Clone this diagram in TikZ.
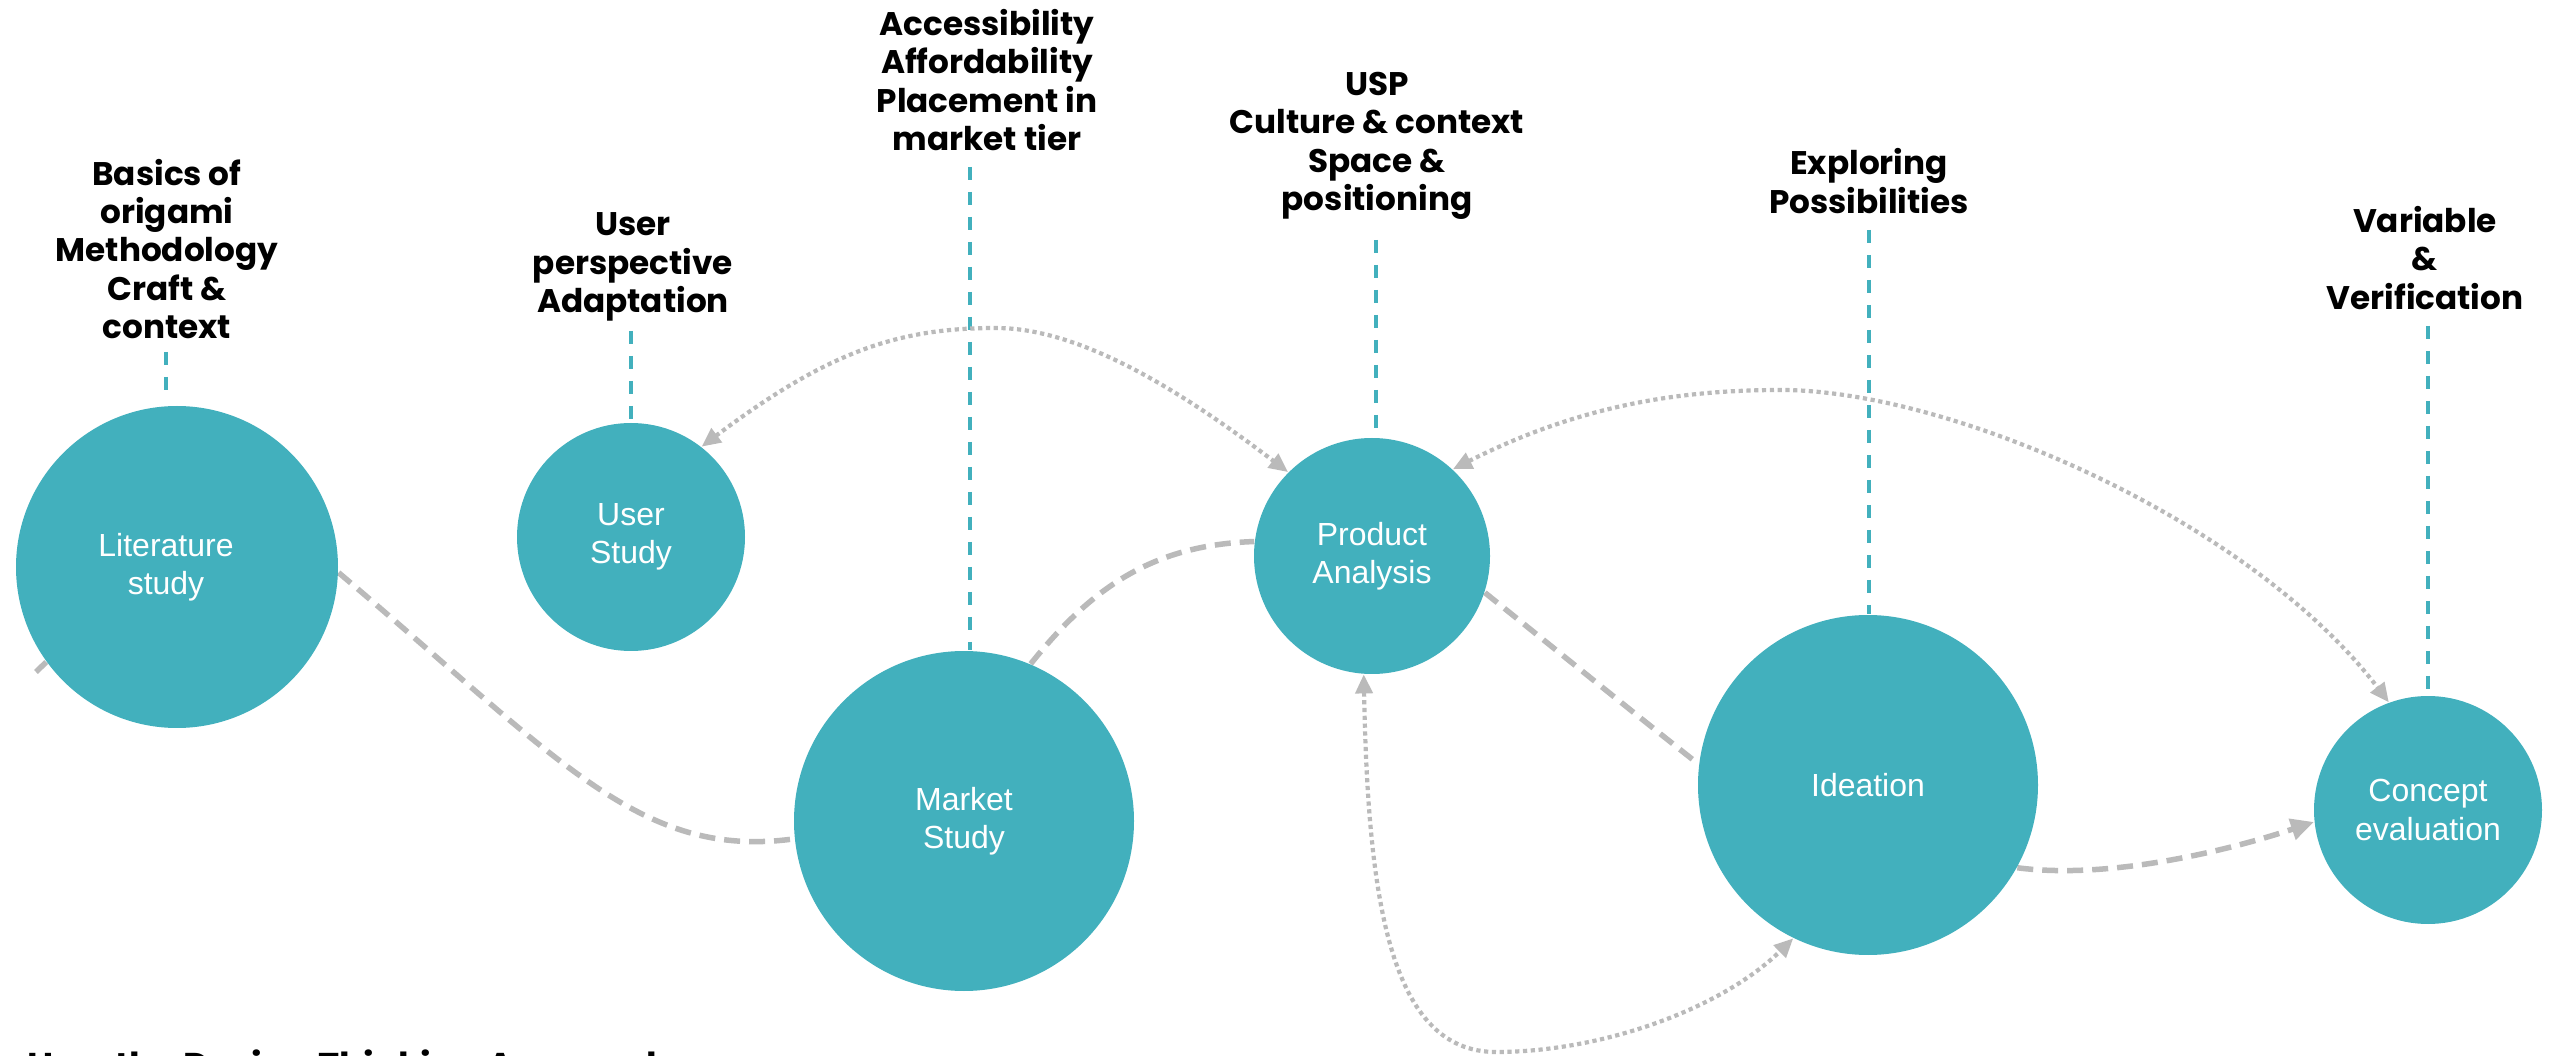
\documentclass[tikz,border=0pt]{standalone}
\usepackage{fontspec}
\setmainfont{Liberation Sans}
\newfontfamily\lblfont{Poppins}
\usetikzlibrary{arrows.meta}
\definecolor{tealc}{RGB}{66,176,189}
\definecolor{grayc}{RGB}{186,186,186}
\pgfdeclarelayer{bg}
\pgfdeclarelayer{lines}
\pgfsetlayers{bg,lines,main}
\tikzset{tri/.tip={Triangle[length=1.9mm,width=1.7mm]},
  bigtri/.tip={Triangle[length=2.3mm,width=2.1mm]}}
\begin{document}
\begin{tikzpicture}[x=0.1mm,y=-0.1mm,
  stage/.style={circle, fill=tealc, inner sep=0pt, text=white, align=center,
    font=\fontsize{9.1}{10.9}\selectfont},
  lbl/.style={align=center, inner sep=0pt, text=black,
    font=\lblfont\bfseries\fontsize{9.3}{10.9}\selectfont},
  tealdash/.style={draw=tealc, line width=0.45mm, dash pattern=on 1.3mm off 1.2mm},
  flowline/.style={draw=grayc, line width=0.55mm, dash pattern=on 1.6mm off 0.9mm},
  dotlink/.style={draw=grayc, line width=0.42mm, dash pattern=on 0.42mm off 0.36mm}]
\useasboundingbox (0,0) rectangle (2563,1056);
\begin{pgfonlayer}{bg}
  \fill[white] (0,0) rectangle (2563,1056);
\end{pgfonlayer}

% stages
\node[stage, minimum size=32.2mm] (lit) at (177,567) {Literature\hspace*{2.2mm}\\study\hspace*{2.2mm}};
\node[stage, minimum size=22.8mm] (user) at (631,537) {User\\Study};
\node[stage, minimum size=34mm] (market) at (964,821) {Market\\Study};
\node[stage, minimum size=23.6mm] (prod) at (1372,556) {Product\\Analysis};
\node[stage, minimum size=34mm] (idea) at (1868,785) {Ideation};
\node[stage, minimum size=22.8mm] (concept) at (2428,810) {Concept\\evaluation};

% labels
\node[lbl] (lblLit) at (167,249) {Basics of\\origami\\Methodology\\Craft \&\\context};
\node[lbl] (lblUser) at (633,267) {User\\perspective\\Adaptation};
\node[lbl] (lblMarket) at (987,80) {Accessibility\\Affordability\\Placement in\\market tier};
\node[lbl] (lblProd) at (1377,146) {USP\\Culture \& context\\Space \&\\positioning};
\node[lbl] (lblIdea) at (1869,181) {Exploring\\Possibilities};
\node[lbl] (lblConcept) at (2425,258) {Variable\\\&\\Verification};
\node[lbl, anchor=base west, font=\lblfont\bfseries\fontsize{10.2}{12}\selectfont] (foot) at (27,1078) {How the Design Thinking Approach};

% label line starts
\coordinate (tLit) at (166,352);
\coordinate (tUser) at (631,331);
\coordinate (tMarket) at (970,167);
\coordinate (tProd) at (1376,240);
\coordinate (tIdea) at (1869,230);
\coordinate (tConcept) at (2428,326);
\coordinate (stubEnd) at (36,672);

\begin{pgfonlayer}{lines}
  \draw[tealdash, shorten >=0.9mm] (tLit) -- (tLit |- lit.north);
  \draw[tealdash] (tUser) -- (tUser |- user.north);
  \draw[tealdash] (tMarket) -- (tMarket |- market.north);
  \draw[tealdash] (tProd) -- (tProd |- prod.north);
  \draw[tealdash] (tIdea) -- (tIdea |- idea.north);
  \draw[tealdash] (tConcept) -- (tConcept |- concept.north);

  % dashed flow
  \draw[draw=grayc, line width=0.55mm] (lit.216.7) -- (stubEnd);
  \draw[flowline] (lit.-2.5) .. controls (560,760) and (640,860) .. (market.186.4);
  \draw[flowline] (market.67) .. controls (1090,590) and (1150,545) .. (prod.173);
  \draw[flowline] (prod.-18.3) .. controls (1550,645) and (1630,710) .. (idea.173);
  \draw[flowline, -bigtri] (idea.-29.3) .. controls (2110,880) and (2230,850) .. (concept.186);

  % dotted links
  \draw[dotlink, tri-tri] (user.52.6) .. controls (830,350) and (900,328) .. (996,328)
     .. controls (1080,328) and (1180,390) .. (prod.135);
  \draw[dotlink, tri-tri] (prod.47) .. controls (1580,405) and (1680,390) .. (1781,390)
     .. controls (1950,390) and (2250,520) .. (concept.110.6);
  \draw[dotlink, tri-tri] (prod.266.6) .. controls (1368,900) and (1390,1052) .. (1496,1052)
     .. controls (1600,1052) and (1720,1010) .. (idea.244);
\end{pgfonlayer}
\end{tikzpicture}
\end{document}
